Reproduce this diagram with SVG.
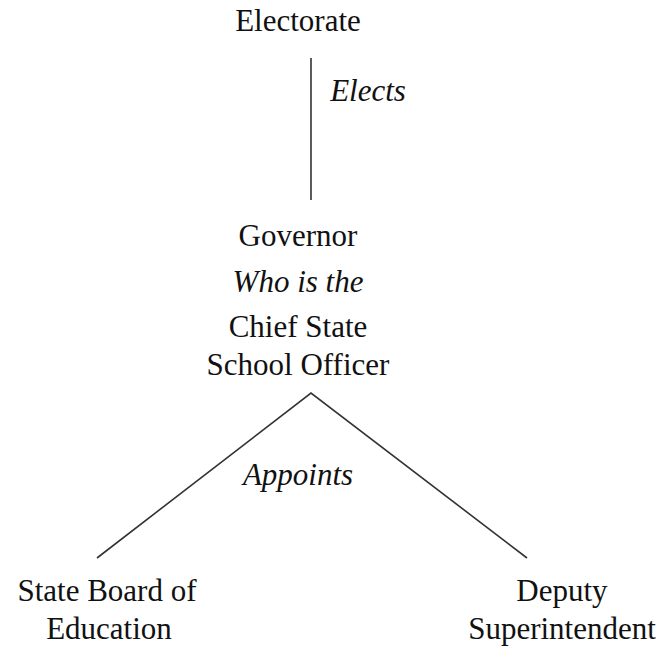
<svg xmlns="http://www.w3.org/2000/svg" width="663" height="647" viewBox="0 0 663 647">
  <style>
    text { font-family: "Liberation Serif", "Times New Roman", serif; font-size: 31px; fill: #111; text-anchor: middle; }
    .it { font-style: italic; }
    .edge { stroke: #333; stroke-width: 1.6; fill: none; }
  </style>
  <rect width="663" height="647" fill="#fff"/>
  <g id="connectors">
    <line class="edge" x1="311" y1="58" x2="311" y2="200"/>
    <polyline class="edge" points="97,558 311,393 527,558"/>
    <text class="it" x="368" y="101">Elects</text>
    <text class="it" x="298" y="485">Appoints</text>
  </g>
  <g id="electorate">
    <text x="298" y="31">Electorate</text>
  </g>
  <g id="governor">
    <text x="298" y="246">Governor</text>
    <text class="it" x="298" y="292">Who is the</text>
    <text x="298" y="337">Chief State</text>
    <text x="298" y="375">School Officer</text>
  </g>
  <g id="state-board">
    <text x="107" y="601">State Board of</text>
    <text x="109" y="639">Education</text>
  </g>
  <g id="deputy">
    <text x="562" y="601">Deputy</text>
    <text x="562" y="639">Superintendent</text>
  </g>
</svg>
